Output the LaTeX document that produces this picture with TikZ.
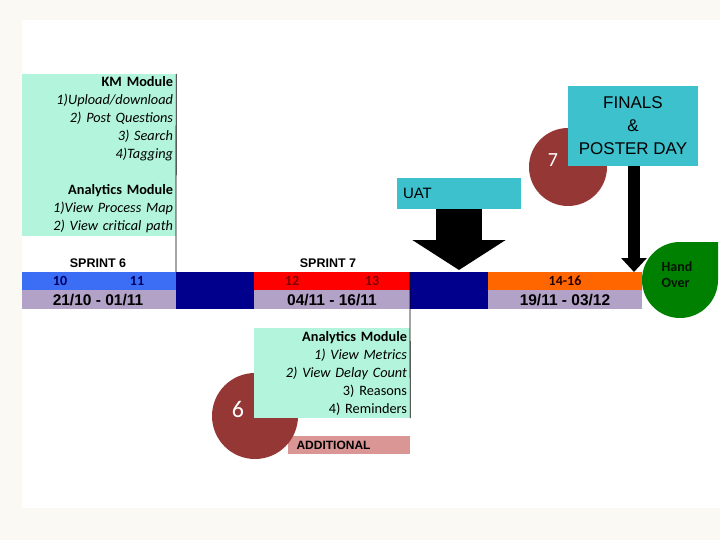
\documentclass[tikz,border=0pt]{standalone}
\usepackage{fontspec}
\setmainfont{Carlito}
\newfontfamily\arialf{Liberation Sans}
\usepackage{tikz}
\usetikzlibrary{positioning,calc,arrows.meta}
\usepackage{xcolor}
\definecolor{pagebg}{RGB}{250,249,243}
\definecolor{mint}{RGB}{178,245,220}
\definecolor{sblue}{RGB}{60,110,245}
\definecolor{snavy}{RGB}{0,0,140}
\definecolor{sred}{RGB}{255,0,0}
\definecolor{sorange}{RGB}{255,102,0}
\definecolor{lav}{RGB}{179,162,199}
\definecolor{dred}{RGB}{149,55,53}
\definecolor{tcyan}{RGB}{61,193,205}
\definecolor{pinkadd}{RGB}{217,150,148}
\definecolor{hgreen}{RGB}{0,128,0}

\begin{document}
\begin{tikzpicture}[
    x=1pt, y=-1pt,
    modbox/.style={fill=mint, inner xsep=3pt, inner ysep=0pt, align=right,
                   font=\fontsize{14.3}{18}\selectfont},
    cyanbox/.style={fill=tcyan, font=\arialf\fontsize{17}{23}\selectfont},
    sprint/.style={font=\arialf\bfseries\fontsize{12.5}{14}\selectfont},
    wk/.style={font=\bfseries\fontsize{14}{16}\selectfont},
    dates/.style={font=\arialf\bfseries\fontsize{15.5}{16}\selectfont},
    blob/.style={circle, fill=dred, inner sep=0pt},
    num/.style={white, font=\fontsize{22}{24}\selectfont},
    blockarrow/.style={line width=46pt, -{Triangle[width=92pt, length=30pt]}},
    thinarrow/.style={line width=12pt, -{Triangle[width=25pt, length=14pt]}},
]
\useasboundingbox (0,0) rectangle (720,540);
\fill[pagebg] (0,0) rectangle (720,540);
\fill[white] (22,20) rectangle (720,508);

% sprint 6 modules
\node[modbox, minimum width=154pt, minimum height=162pt, text width=148pt] (km) at (99,155)
  {\textbf{KM Module}\\ \textit{1)Upload/download}\\ \textit{2) Post Questions}\\
   \textit{3) Search}\\ \textit{4)Tagging}\\[18pt] \textbf{Analytics Module}\\
   \textit{1)View Process Map}\\ \textit{2) View critical path}};
\draw[line width=0.8pt] (km.north east) -- (176,272);

% timeline
\fill[sblue] (22,272) rectangle (176,290);
\fill[sred] (254,272) rectangle (410,290);
\fill[sorange] (488,272) rectangle (642,290);
\foreach \xa/\xb in {22/176,254/410,488/642}
  \fill[lav] (\xa,290) rectangle (\xb,309);
\foreach \xa in {176,410}
  \fill[snavy] (\xa,272) rectangle +(78,37);

\node[sprint] (s6) at (98,263) {SPRINT 6};
\node[sprint] (s7) at (328,263) {SPRINT 7};
\node[wk, text=snavy!70!black] (w10) at (60,281) {10};
\node[wk, text=snavy!70!black] (w11) at (137,281) {11};
\node[wk, text=red!50!black] (w12) at (292,281) {12};
\node[wk, text=red!50!black] (w13) at (372,281) {13};
\node[wk, text=black!85!red] (w14) at (565,281) {14-16};
\node[dates] (d6) at (98,300) {21/10 - 01/11};
\node[dates] (d7) at (332,300) {04/11 - 16/11};
\node[dates] (d8) at (565,300) {19/11 - 03/12};

% sprint 7 modules
\fill[pinkadd] (288,436) rectangle (410,454);
\node[font=\arialf\bfseries\fontsize{12}{14}\selectfont, anchor=west] (add) at (293,445) {ADDITIONAL};
\node[blob, minimum size=86pt] (c6) at (255,416) {};
\node[num, font=\fontsize{24}{26}\selectfont] (n6) at (238,409) {6};
\node[modbox, minimum width=156pt, minimum height=90pt, text width=150pt] (an) at (332,373)
  {\textbf{Analytics Module}\\ \textit{1) View Metrics}\\ \textit{2) View Delay Count}\\
   3) Reasons\\ 4) Reminders};
\draw[line width=0.8pt] (410,272) -- (an.south east);

% finals
\node[blob, minimum size=78pt] (c7) at (568,167) {};
\node[num, font=\fontsize{20}{22}\selectfont] (n7) at (553,160) {7};
\node[cyanbox, minimum width=130pt, minimum height=80pt, align=center, inner sep=0pt] (finals) at (633,126)
  {FINALS\\\&\\POSTER DAY};
\node[cyanbox, font=\arialf\fontsize{15}{17}\selectfont, text width=112pt, inner xsep=6pt,
      minimum height=31pt, align=left] (uat) at (459,193.5) {UAT};

\coordinate (uatTip) at (459,270);
\coordinate (finTip) at (634,272);
\draw[blockarrow] (uat.south) -- (uatTip);
\draw[thinarrow] (finals.south -| finTip) -- (finTip);

% hand over
\fill[hgreen] (718,242) -- (680,242) arc[start angle=90, end angle=360, radius=38pt] -- cycle;
\node[font=\bfseries\fontsize{14}{16}\selectfont, text=black!85!hgreen, align=left] (hand) at (677,275) {Hand\\Over};
\end{tikzpicture}
\end{document}
